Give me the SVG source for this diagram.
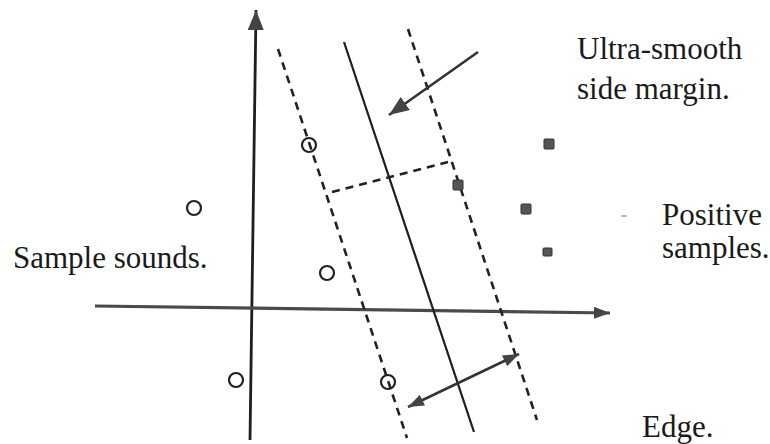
<svg xmlns="http://www.w3.org/2000/svg" width="770" height="444" viewBox="0 0 770 444">
<style>
.lbl{font-family:'Liberation Serif', serif;font-size:31px;fill:#1a1a1a}
.neg{fill:none;stroke:#222;stroke-width:2.2}
.pos{fill:#555;stroke:#333;stroke-width:1}
.axis{stroke:#1e1e1e;stroke-width:2.8;fill:none}
.haxis{stroke:#4a4a4a;stroke-width:3.2;fill:none}
.solid{stroke:#1e1e1e;stroke-width:2.2;fill:none}
.dash{stroke:#222;stroke-width:2.6;stroke-dasharray:8 6;fill:none}
.arr{stroke:#333;stroke-width:2.6;fill:none}
</style>
<defs>
<marker id="ah" markerUnits="userSpaceOnUse" markerWidth="22" markerHeight="18" refX="20" refY="8" orient="auto-start-reverse">
<path d="M0,0 L20,8 L0,16 Z" fill="#444"/>
</marker>
<marker id="ahs" markerUnits="userSpaceOnUse" markerWidth="18" markerHeight="14" refX="16" refY="6" orient="auto-start-reverse">
<path d="M0,0 L16,6 L0,12 Z" fill="#444"/>
</marker>
</defs>
<rect width="770" height="444" fill="#fff"/>
<g id="connectors">
<line class="axis" x1="250" y1="440" x2="256" y2="10" marker-end="url(#ah)"/>
<line class="haxis" x1="95" y1="306" x2="610" y2="313" marker-end="url(#ahs)"/>
<line class="solid" x1="344" y1="42" x2="474" y2="432"/>
<line class="dash" x1="278" y1="49" x2="407" y2="438"/>
<line class="dash" x1="408" y1="29" x2="537" y2="420"/>
<polyline class="dash" points="332,192 448,162"/>
<line class="arr" x1="478" y1="52" x2="389" y2="115" marker-end="url(#ah)"/>
<line class="arr" x1="408" y1="407" x2="519" y2="354" marker-start="url(#ahs)" marker-end="url(#ahs)"/>
<line x1="621" y1="216" x2="627" y2="216" stroke="#777" stroke-width="1"/>
</g>
<g id="neg1"><circle class="neg" cx="309" cy="145" r="7"/></g>
<g id="neg2"><circle class="neg" cx="194" cy="208" r="7"/></g>
<g id="neg3"><circle class="neg" cx="327" cy="273" r="7"/></g>
<g id="neg4"><circle class="neg" cx="236" cy="380" r="7"/></g>
<g id="neg5"><circle class="neg" cx="388" cy="382" r="7"/></g>
<g id="pos1"><rect class="pos" x="544" y="139" width="10" height="10" rx="1"/></g>
<g id="pos2"><rect class="pos" x="453" y="180" width="10" height="10" rx="1"/></g>
<g id="pos3"><rect class="pos" x="521" y="204" width="10" height="10" rx="1"/></g>
<g id="pos4"><rect class="pos" x="543" y="248" width="9" height="8" rx="1"/></g>
<g id="label-margin" font-family="'Liberation Serif', serif"><text class="lbl" font-family="'Liberation Serif', serif" x="577" y="59">Ultra-smooth</text><text class="lbl" font-family="'Liberation Serif', serif" x="577" y="99">side margin.</text></g>
<g id="label-positive" font-family="'Liberation Serif', serif"><text class="lbl" font-family="'Liberation Serif', serif" x="662" y="225">Positive</text><text class="lbl" font-family="'Liberation Serif', serif" x="662" y="258">samples.</text></g>
<g id="label-negative" font-family="'Liberation Serif', serif"><text class="lbl" font-family="'Liberation Serif', serif" x="13" y="268">Sample sounds.</text></g>
<g id="label-edge" font-family="'Liberation Serif', serif"><text class="lbl" font-family="'Liberation Serif', serif" x="642" y="437">Edge.</text></g>
</svg>
